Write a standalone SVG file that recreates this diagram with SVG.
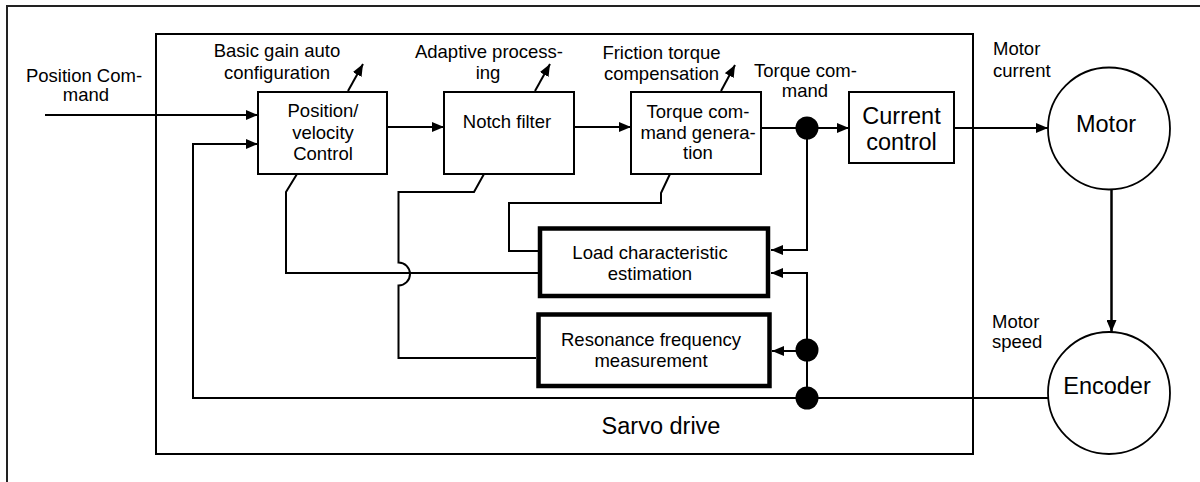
<svg xmlns="http://www.w3.org/2000/svg" width="1200" height="482" viewBox="0 0 1200 482">
<defs>
<marker id="ah" markerUnits="userSpaceOnUse" markerWidth="12" markerHeight="10" refX="12" refY="5" orient="auto">
<path d="M0,0 L12,5 L0,10 z" fill="#000"/>
</marker>
<style>
.t{font-family:"Liberation Sans",Arial,sans-serif;font-size:18.5px;fill:#000;text-anchor:middle}
.l{text-anchor:start}
.b{font-size:23.5px}
.box{fill:#fff;stroke:#000;stroke-width:2}
.thick{fill:#fff;stroke:#000;stroke-width:4.5}
.ln{fill:none;stroke:#000;stroke-width:2}
.ar{fill:none;stroke:#000;stroke-width:2;marker-end:url(#ah)}
.circ{fill:#fff;stroke:#000;stroke-width:1.8}
</style>
</defs>
<rect width="1200" height="482" fill="#fff"/>
<path d="M7,482 V6 H1200" fill="none" stroke="#222" stroke-width="2"/>
<g id="sarvo-drive">
<rect x="156" y="34" width="817" height="420" fill="none" stroke="#000" stroke-width="2"/>
<text class="t b" x="661" y="434">Sarvo drive</text>
</g>
<g id="connectors">
<path class="ar" d="M45,115 H258"/>
<path class="ar" d="M1048,398 H193 V144 H258"/>
<path class="ar" d="M387,127 H444"/>
<path class="ar" d="M574,127 H631"/>
<path class="ar" d="M761,128 H849"/>
<path class="ar" d="M954,128 H1048"/>
<path class="ar" d="M1111.5,189 V332" style="stroke-width:2.5"/>
<path class="ar" d="M348,91 L363,64"/>
<path class="ar" d="M535,91 L550,64"/>
<path class="ar" d="M721,91 L735,65"/>
<path class="ar" d="M807,128 V250 H771"/>
<path class="ar" d="M807,398 V273 H771"/>
<path class="ar" d="M807,351 H772"/>
<path class="ln" d="M297,174 L286,192 V273 H538"/>
<path class="ln" d="M670,174 L661,193 V203 H509 V251 H538"/>
<path class="ln" d="M484,174 L474,192 H398.5 V262.5 A11.5,11.5 0 0 1 398.5,285.5 V358 H536"/>
<circle cx="807" cy="128" r="11.5" fill="#000"/>
<circle cx="807" cy="350" r="11.5" fill="#000"/>
<circle cx="807" cy="398" r="11.5" fill="#000"/>
</g>
<g id="labels">
<text class="t" x="84" y="82">Position Com-</text>
<text class="t" x="86" y="101">mand</text>
<text class="t" x="277" y="57">Basic gain auto</text>
<text class="t" x="277" y="78.5">configuration</text>
<text class="t" x="489" y="58">Adaptive process-</text>
<text class="t" x="488" y="79">ing</text>
<text class="t" x="661.5" y="59">Friction torque</text>
<text class="t" x="661.5" y="80">compensation</text>
<text class="t" x="805.5" y="77">Torque com-</text>
<text class="t" x="805" y="97">mand</text>
<text class="t l" x="993" y="55">Motor</text>
<text class="t l" x="993" y="77">current</text>
<text class="t l" x="992" y="328">Motor</text>
<text class="t l" x="992" y="348">speed</text>
</g>
<g id="position-velocity-control">
<rect class="box" x="258" y="92" width="129" height="82"/>
<text class="t" x="323" y="117">Position/</text>
<text class="t" x="323" y="139">velocity</text>
<text class="t" x="323" y="160">Control</text>
</g>
<g id="notch-filter">
<rect class="box" x="444" y="92" width="130" height="82"/>
<text class="t" x="507" y="128">Notch filter</text>
</g>
<g id="torque-command-generation">
<rect class="box" x="631" y="92" width="130" height="82"/>
<text class="t" x="698" y="118">Torque com-</text>
<text class="t" x="698" y="139">mand genera-</text>
<text class="t" x="698" y="159">tion</text>
</g>
<g id="current-control">
<rect class="box" x="849" y="92" width="105" height="71"/>
<text class="t b" x="901.5" y="124">Current</text>
<text class="t b" x="901.5" y="150">control</text>
</g>
<g id="load-characteristic-estimation">
<rect class="thick" x="540" y="228.5" width="228" height="67.5"/>
<text class="t" x="650" y="259">Load characteristic</text>
<text class="t" x="650" y="279.5">estimation</text>
</g>
<g id="resonance-frequency-measurement">
<rect class="thick" x="538.5" y="314.5" width="231" height="71.5"/>
<text class="t" x="651" y="345.5">Resonance frequency</text>
<text class="t" x="651" y="366.5">measurement</text>
</g>
<g id="motor">
<circle class="circ" cx="1109" cy="128.5" r="61"/>
<text class="t b" x="1106" y="132">Motor</text>
</g>
<g id="encoder">
<circle class="circ" cx="1109" cy="393" r="61"/>
<text class="t b" x="1107" y="394">Encoder</text>
</g>
</svg>
